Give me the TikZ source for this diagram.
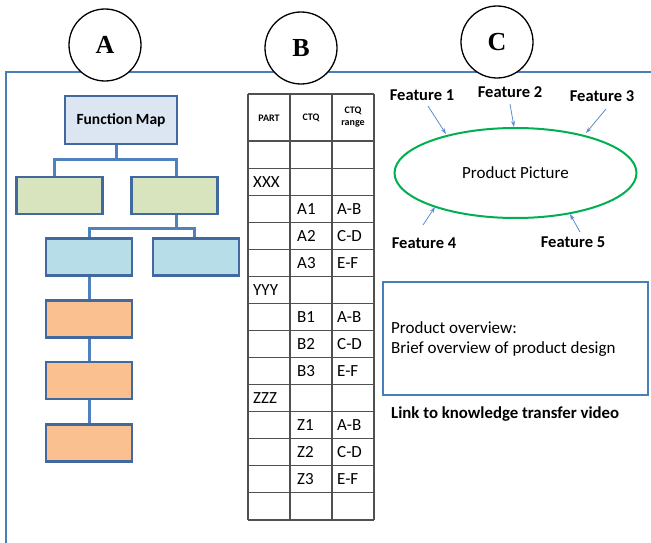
\documentclass[tikz,border=0pt]{standalone}
\usepackage{fontspec}
\setmainfont{Carlito}
\newfontfamily\letterfont{Liberation Serif}
\usetikzlibrary{arrows.meta,shapes.geometric}
\definecolor{framecol}{RGB}{74,126,187}
\definecolor{boxline}{RGB}{65,105,160}
\definecolor{linkcol}{RGB}{79,129,189}
\definecolor{fmfill}{RGB}{220,230,242}
\definecolor{greenfill}{RGB}{215,228,189}
\definecolor{cyanfill}{RGB}{183,222,232}
\definecolor{orangefill}{RGB}{250,192,144}
\definecolor{ellcol}{RGB}{0,176,80}
\definecolor{arrowcol}{RGB}{91,140,205}
\definecolor{gridcol}{RGB}{80,80,80}
\tikzset{
  lettercircle/.style={circle, draw=black, line width=1.3pt, fill=white,
    minimum width=72pt, inner sep=0pt, font=\letterfont\bfseries\fontsize{26}{28}\selectfont},
  mapbox/.style={draw=boxline, line width=2.6pt, minimum width=86pt,
    minimum height=37pt, inner sep=0pt, outer sep=0pt},
  treelink/.style={draw=linkcol, line width=3pt},
  cell/.style={anchor=west, inner sep=0pt, font=\fontsize{17}{19}\selectfont},
  headcell/.style={align=center, inner sep=0pt, font=\bfseries\fontsize{10}{12}\selectfont},
  featlabel/.style={inner sep=0pt, font=\bfseries\fontsize{16.5}{18}\selectfont},
  featarrow/.style={draw=arrowcol, line width=0.8pt, -{Stealth[length=6pt,width=4pt]}},
}
\begin{document}
\begin{tikzpicture}[x=1pt,y=-1pt]
\useasboundingbox (0,0) rectangle (651,543);

% outer frame, open towards the right and bottom edges
\draw[framecol, line width=2.2pt] (6,543) -- (6,72) -- (651,72);

% section markers
\node[lettercircle] (cA) at (105,45) {A};
\node[lettercircle] (cB) at (301,48) {B};
\node[lettercircle] (cC) at (497,42) {C};

% ---- A: function map tree ----
\node[mapbox, fill=fmfill, minimum width=112pt, minimum height=48pt,
  font=\bfseries\fontsize{15.5}{17}\selectfont] (fm) at (121,120) {Function Map};
\node[mapbox, fill=greenfill] (g1) at (59.5,195.5) {};
\node[mapbox, fill=greenfill] (g2) at (174.5,195.5) {};
\node[mapbox, fill=cyanfill] (c1) at (89,257) {};
\node[mapbox, fill=cyanfill] (c2) at (196,257) {};
\node[mapbox, fill=orangefill] (o1) at (89,319) {};
\node[mapbox, fill=orangefill] (o2) at (89,380.5) {};
\node[mapbox, fill=orangefill] (o3) at (89,443) {};

\coordinate (j1) at (116,159);
\coordinate (j2) at (176,228);
\draw[treelink] ([xshift=-5pt]fm.south) -- (j1);
\draw[treelink] ([xshift=-5pt]g1.north) |- (j1) -| ([xshift=1.5pt]g2.north);
\draw[treelink] ([xshift=1.5pt]g2.south) -- (j2);
\draw[treelink] (c1.north) |- (j2) -| ([xshift=-2pt]c2.north);
\draw[treelink] (c1.south) -- (o1.north);
\draw[treelink] (o1.south) -- (o2.north);
\draw[treelink] (o2.south) -- (o3.north);
% redraw box outlines over connector ends
\foreach \b in {fm,g1,g2,c1,c2,o1,o2,o3}{
  \draw[boxline, line width=2.6pt] (\b.north west) rectangle (\b.south east);
}

% ---- B: CTQ table ----
\def\rowh{27.07}
\foreach \xx in {248,290,332,374}{
  \draw[gridcol, line width=1.1pt] (\xx,94) -- (\xx,520);
}
\draw[gridcol, line width=1.1pt] (248,94) -- (374,94);
\foreach \k in {0,...,14}{
  \draw[gridcol, line width=1.1pt] (248,141+\k*\rowh) -- (374,141+\k*\rowh);
}
\node[headcell] (hpart) at (269,118) {PART};
\node[headcell] (hctq) at (311,118) {CTQ};
\node[headcell] (hrange) at (353,117) {CTQ\\range};

\foreach \k/\p/\c/\r in {2/XXX//, 3//A1/A-B, 4//A2/C-D, 5//A3/E-F,
  6/YYY//, 7//B1/A-B, 8//B2/C-D, 9//B3/E-F,
  10/ZZZ//, 11//Z1/A-B, 12//Z2/C-D, 13//Z3/E-F}{
  \node[cell] (p\k) at (253,141+\k*\rowh-0.5*\rowh) {\p};
  \node[cell] (q\k) at (297,141+\k*\rowh-0.5*\rowh) {\c};
  \node[cell] (r\k) at (337,141+\k*\rowh-0.5*\rowh) {\r};
}

% ---- C: product picture with features ----
\node[ellipse, draw=ellcol, line width=2pt, minimum width=242pt,
  minimum height=90pt, inner sep=0pt, font=\fontsize{17}{19}\selectfont]
  (prod) at (515.5,173) {Product Picture};

\node[featlabel] (f1) at (422,95) {Feature 1};
\node[featlabel] (f2) at (510,92) {Feature 2};
\node[featlabel] (f3) at (602,96) {Feature 3};
\node[featlabel] (f4) at (424,243) {Feature 4};
\node[featlabel] (f5) at (573,242) {Feature 5};

\coordinate (t1) at (446,134);
\coordinate (t2) at (514,127);
\coordinate (t3) at (586,133);
\coordinate (t4) at (435,207);
\coordinate (t5) at (570,214);
\draw[featarrow] (428,106) -- (t1);
\draw[featarrow] (510,104) -- (t2);
\draw[featarrow] (606,109) -- (t3);
\draw[featarrow] (423,225) -- (t4);
\draw[featarrow] (580,232) -- (t5);

\node[draw=framecol, line width=1.5pt, minimum width=265pt, minimum height=113pt,
  inner sep=0pt] (ov) at (515.5,338.5) {};
\node[anchor=west, align=left, inner sep=0pt, font=\fontsize{17}{20}\selectfont]
  (ovtext) at (391,339) {Product overview:\\Brief overview of product design};
\node[anchor=west, inner sep=0pt, font=\bfseries\fontsize{16.8}{18}\selectfont]
  (video) at (391,414) {Link to knowledge transfer video};
\end{tikzpicture}
\end{document}
